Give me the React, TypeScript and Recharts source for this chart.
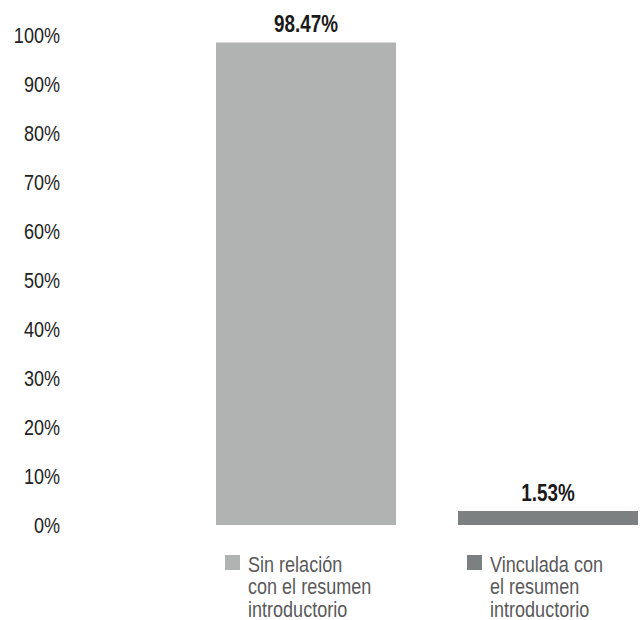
import React from 'react';
import { BarChart, Bar, XAxis, YAxis, Cell, LabelList } from 'recharts';

// values
const categories = ['Sin relación con el resumen introductorio', 'Vinculada con el resumen introductorio'];
const shares = [98.47, 1.53];
const legendLines = [
  ['Sin relación', 'con el resumen', 'introductorio'],
  ['Vinculada con', 'el resumen', 'introductorio'],
];
const barColors = ['#b1b3b3', '#7d8080'];
const yTicks = [0, 10, 20, 30, 40, 50, 60, 70, 80, 90, 100];

const chartData = categories.map((name, i) => ({ name, value: shares[i], idx: i }));

// no narrow face installed, so squeeze Liberation Sans horizontally
const FONT = '"Liberation Sans", Arial, sans-serif';
const NARROW = 0.82;

const YTick = (props: any) => {
  const { x, y, payload } = props;
  return (
    <text
      transform={`translate(${x},${y}) scale(${NARROW},1)`}
      textAnchor="end"
      dy="0.355em"
      fontFamily={FONT}
      fontSize={22}
      fill="#222"
    >
      {`${payload.value}%`}
    </text>
  );
};

// legend square + wrapped text drawn under each bar
const LegendTick = (props: any) => {
  const { x, y, index } = props;
  const lines = legendLines[index] || [];
  return (
    <g>
      <rect x={x - 81} y={y + 30} width={15} height={15} fill={barColors[index]} />
      <text
        transform={`translate(${x - 58},${y + 47}) scale(${NARROW},1)`}
        fontFamily={FONT}
        fontSize={22}
        fill="#595959"
      >
        {lines.map((ln, i) => (
          <tspan key={i} x={0} dy={i === 0 ? 0 : 22.5}>
            {ln}
          </tspan>
        ))}
      </text>
    </g>
  );
};

const ValueLabel = (props: any) => {
  const { x, y, width, value } = props;
  return (
    <text
      transform={`translate(${x + width / 2},${y - 10}) scale(${NARROW},1)`}
      textAnchor="middle"
      fontFamily={FONT}
      fontSize={23}
      fontWeight="bold"
      fill="#1a1a1a"
    >
      {`${Number(value).toFixed(2)}%`}
    </text>
  );
};

const App: React.FC = () => {
  return (
    <div style={{ width: 643, height: 620, overflow: 'hidden', background: '#fff' }}>
      <style>{'body{margin:0}'}</style>
      <BarChart width={669} height={620} data={chartData} margin={{ top: 35, right: 0, bottom: 0, left: 0 }}>
        <YAxis
          domain={[0, 100]}
          ticks={yTicks}
          axisLine={false}
          tickLine={false}
          tickSize={0}
          tickMargin={0}
          width={60}
          interval={0}
          tick={<YTick />}
        />
        <XAxis
          dataKey="name"
          axisLine={false}
          tickLine={false}
          tickSize={0}
          tickMargin={0}
          height={95}
          interval={0}
          padding={{ left: 125, right: 0 }}
          tick={<LegendTick />}
        />
        <Bar dataKey="value" barSize={180} minPointSize={14} isAnimationActive={false}>
          {chartData.map((d) => (
            <Cell key={d.name} fill={barColors[d.idx]} />
          ))}
          <LabelList dataKey="value" content={<ValueLabel />} />
        </Bar>
      </BarChart>
    </div>
  );
};

export default App;
